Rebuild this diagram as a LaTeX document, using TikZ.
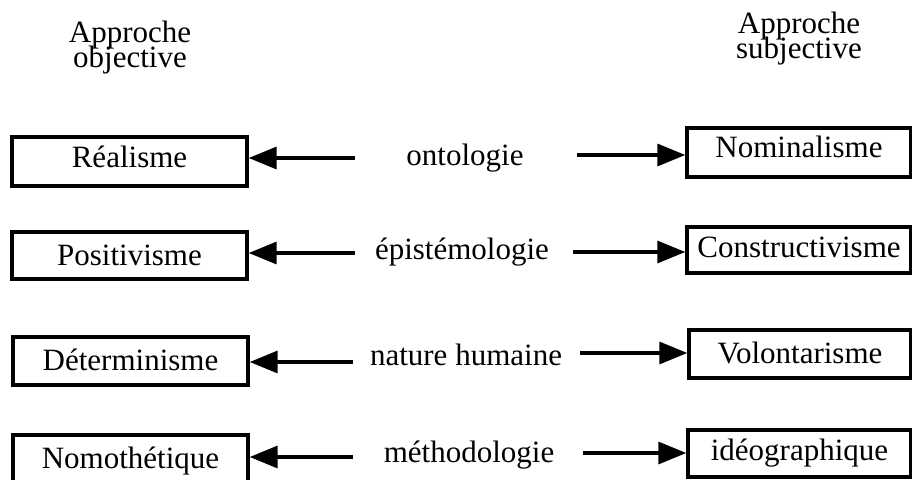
\documentclass[tikz,border=0pt]{standalone}
\usepackage{fontspec}
\setmainfont{Liberation Serif}
\usetikzlibrary{arrows.meta}
\newcommand\myhdfont{\fontsize{31}{25}\selectfont\lineskiplimit=-60pt\relax\lineskip=0pt\relax}
\tikzset{
  every node/.style={font=\myhdfont, inner sep=0pt},
  boxd/.style n args={3}{draw, line width=3.4pt, anchor=base, minimum width=#1, text height=#2, text depth=#3},
  lbl/.style={anchor=base},
  head/.style={align=center, anchor=base},
  arr/.style={line width=3.4pt, -{Triangle[length=28pt,width=22pt]}}
}
\begin{document}
\begin{tikzpicture}[x=1pt,y=-1pt]
\clip (0,0) rectangle (912,479);
% headers
\node[head] (hl) at (130,67) {Approche\\objective};
\node[head] (hr) at (799,58) {Approche\\subjective};
% left boxes
\node[boxd={235pt}{30pt}{19pt}] (b1l) at (129.5,167) {Réalisme};
\node[boxd={235pt}{33pt}{14pt}] (b2l) at (129.5,265) {Positivisme};
\node[boxd={235pt}{33pt}{15pt}] (b3l) at (130.5,370) {Déterminisme};
\node[boxd={235pt}{33pt}{15pt}] (b4l) at (130.5,468) {Nomothétique};
% right boxes
\node[boxd={224pt}{29pt}{20pt}] (b1r) at (799,157) {Nominalisme};
\node[boxd={224pt}{30pt}{16pt}] (b2r) at (799,257) {Constructivisme};
\node[boxd={222pt}{33pt}{15pt}] (b3r) at (800,363) {Volontarisme};
\node[boxd={223pt}{30pt}{17pt}] (b4r) at (799.5,460) {idéographique};
% middle labels
\node[lbl] (m1) at (465,165) {ontologie};
\node[lbl] (m2) at (462,259) {épistémologie};
\node[lbl] (m3) at (466,365) {nature humaine};
\node[lbl] (m4) at (469,462) {méthodologie};
% arrow tails
\coordinate (t1l) at (355,158);
\coordinate (t1r) at (577,155);
\coordinate (t2l) at (355,253);
\coordinate (t2r) at (573,252);
\coordinate (t3l) at (353,362);
\coordinate (t3r) at (580,353);
\coordinate (t4l) at (353,457);
\coordinate (t4r) at (583,453);
% arrows
\draw[arr] (t1l) -- (t1l -| b1l.east);
\draw[arr] (t1r) -- (t1r -| b1r.west);
\draw[arr] (t2l) -- (t2l -| b2l.east);
\draw[arr] (t2r) -- (t2r -| b2r.west);
\draw[arr] (t3l) -- (t3l -| b3l.east);
\draw[arr] (t3r) -- (t3r -| b3r.west);
\draw[arr] (t4l) -- (t4l -| b4l.east);
\draw[arr] (t4r) -- (t4r -| b4r.west);
\end{tikzpicture}
\end{document}
